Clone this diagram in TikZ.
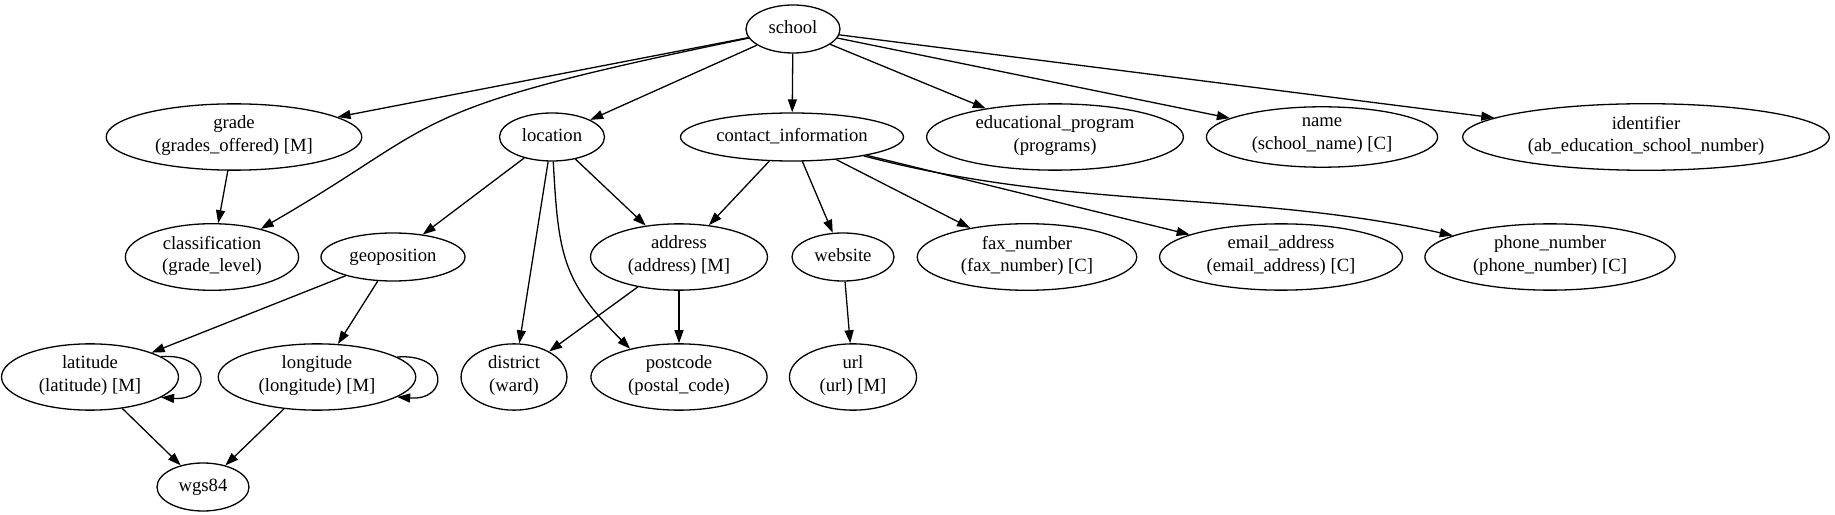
\documentclass[tikz,border=0pt]{standalone}
\usepackage{fontspec}
\setmainfont{Liberation Serif}
\usepackage{tikz}
\usetikzlibrary{shapes,arrows.meta}

\begin{document}
\begin{tikzpicture}[x=1bp, y=1bp,
  font=\fontsize{18.67bp}{22.4bp}\selectfont,
  attr/.style={draw, ellipse, align=center, line width=1.3bp,
    inner xsep=11.5bp, inner ysep=2.4bp,
    execute at begin node=\strut, execute at end node=\strut},
  single/.style={attr, inner xsep=2bp, minimum height=48bp, minimum width=#1},
  link/.style={line width=1.3bp, -{Triangle[length=13bp, width=9bp]}}]
\path[fill=white] (0,0) rectangle (1835,-515);

% root
\node[single=94bp] (school) at (793,-29) {school};

% first rank
\node[attr] (grade) at (234,-137) {grade\\(grades\_offered) [M]};
\node[single=105bp] (location) at (552,-137) {location};
\node[single=223bp] (contact) at (792,-137) {contact\_information};
\node[attr] (program) at (1055,-137) {educational\_program\\(programs)};
\node[attr] (name) at (1322,-137) {name\\(school\_name) [C]};
\node[attr] (identifier) at (1646,-137) {identifier\\(ab\_education\_school\_number)};

% second rank
\node[attr] (classification) at (212,-257) {classification\\(grade\_level)};
\node[single=144bp] (geoposition) at (393,-257) {geoposition};
\node[attr] (address) at (679,-257) {address\\(address) [M]};
\node[single=102bp] (website) at (843,-257) {website};
\node[attr] (fax) at (1027,-257) {fax\_number\\(fax\_number) [C]};
\node[attr] (email) at (1281,-257) {email\_address\\(email\_address) [C]};
\node[attr] (phone) at (1550,-257) {phone\_number\\(phone\_number) [C]};

% third rank
\node[attr] (latitude) at (90,-377) {latitude\\(latitude) [M]};
\node[attr] (longitude) at (317,-377) {longitude\\(longitude) [M]};
\node[attr] (district) at (514,-377) {district\\(ward)};
\node[attr] (postcode) at (679,-377) {postcode\\(postal\_code)};
\node[attr] (url) at (853,-377) {url\\(url) [M]};

% last rank
\node[single=92bp] (wgs) at (203,-487) {wgs84};

% edges from school
\draw[link] (school) -- (grade);
\draw[link] (school) .. controls (395,-111) and (451,-119) .. (classification);
\draw[link] (school) -- (location);
\draw[link] (school) -- (contact);
\draw[link] (school) -- (program);
\draw[link] (school) -- (name);
\draw[link] (school) -- (identifier);
\draw[link] (grade) -- (classification);

% location
\draw[link] (location) -- (geoposition);
\draw[link] (location) -- (district);
\draw[link] (location) to[out=-87, in=135, looseness=1.2] (postcode.150);
\draw[link] (location) -- (address);

% contact information
\draw[link] (contact) -- (address);
\draw[link] (contact) -- (website);
\draw[link] (contact) -- (fax);
\draw[link] (contact) -- (email);
\draw[link] (contact) .. controls (1073,-211) and (1246,-190) .. (phone);

% geoposition
\draw[link] (geoposition) -- (latitude);
\draw[link] (geoposition) -- (longitude);
\draw[link] (latitude.16) .. controls +(51,4) and +(51,-4) .. (latitude.-16);
\draw[link] (longitude.14) .. controls +(52,4) and +(52,-4) .. (longitude.-14);
\draw[link] (latitude) -- (wgs);
\draw[link] (longitude) -- (wgs);

% address and website
\draw[link] (address) -- (district);
\draw[link] (address) -- (postcode);
\draw[link] (website) -- (url);
\end{tikzpicture}
\end{document}
